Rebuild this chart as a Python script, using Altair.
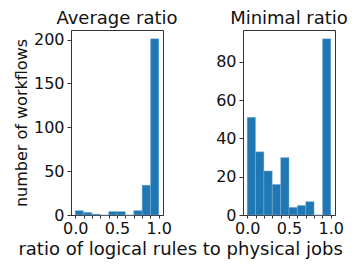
import altair as alt
import pandas as pd

bin_start = [0.0, 0.1, 0.2, 0.3, 0.4, 0.5, 0.6, 0.7, 0.8, 0.9]
avg_counts = [5, 3, 1, 0, 4, 4, 0, 5, 34, 201]
min_counts = [51, 33, 23, 16, 30, 4, 5, 7, 0, 92]
x_ticks = [0.0, 0.1, 0.2, 0.3, 0.4, 0.5, 0.6, 0.7, 0.8, 0.9, 1.0]

FONT = "DejaVu Sans"
BLUE = "#1f77b4"

def panel(counts, title, ymax, yvals, ytitle):
    df = pd.DataFrame({"start": bin_start, "count": counts})
    df["end"] = df["start"] + 0.1
    axis_kw = dict(values=yvals, grid=False, tickSize=4, labelFontSize=16,
                   labelFont=FONT, domainColor="#333", tickColor="#333",
                   labelColor="#111", labelPadding=3)
    if ytitle:
        y_axis = alt.Axis(title=ytitle, titleFontSize=16, titleFont=FONT,
                          titleFontWeight="normal", titleColor="#111",
                          titlePadding=4, **axis_kw)
    else:
        y_axis = alt.Axis(title=None, **axis_kw)
    return alt.Chart(df).mark_bar(color=BLUE, stroke="#8fb8dc", strokeWidth=0.4).encode(
        x=alt.X("start:Q", scale=alt.Scale(domain=[-0.05, 1.05], nice=False, zero=False),
                axis=alt.Axis(values=x_ticks, grid=False, tickSize=3, labelFontSize=16,
                              labelFont=FONT, title=None, domainColor="#333",
                              tickColor="#333", labelColor="#111", labelPadding=2,
                              labelExpr="(datum.value < 0.01 || abs(datum.value - 0.5) < 0.01 || datum.value > 0.99) ? format(datum.value, '.1f') : ''")),
        x2="end:Q",
        y=alt.Y("count:Q", scale=alt.Scale(domain=[0, ymax], nice=False), axis=y_axis),
        y2=alt.datum(0),
    ).properties(width=92, height=185,
                 title=alt.TitleParams(title, fontSize=18, font=FONT, fontWeight="normal",
                                       color="#111", offset=2, anchor="middle"))

left = panel(avg_counts, "Average ratio", 211, [0, 50, 100, 150, 200], "number of workflows")
right = panel(min_counts, "Minimal ratio", 96.6, [0, 20, 40, 60, 80], None)

chart = alt.hconcat(left, right, spacing=36).properties(
    padding={"left": 4, "top": 1, "right": 0, "bottom": 0},
    title=alt.TitleParams("ratio of logical rules to physical jobs", orient="bottom",
                          anchor="middle", fontSize=18, font=FONT, fontWeight="normal",
                          color="#111", offset=4)
).configure_view(stroke="#333", strokeWidth=1)

chart.save("out.html", embed_options={"renderer": "svg", "actions": False})
